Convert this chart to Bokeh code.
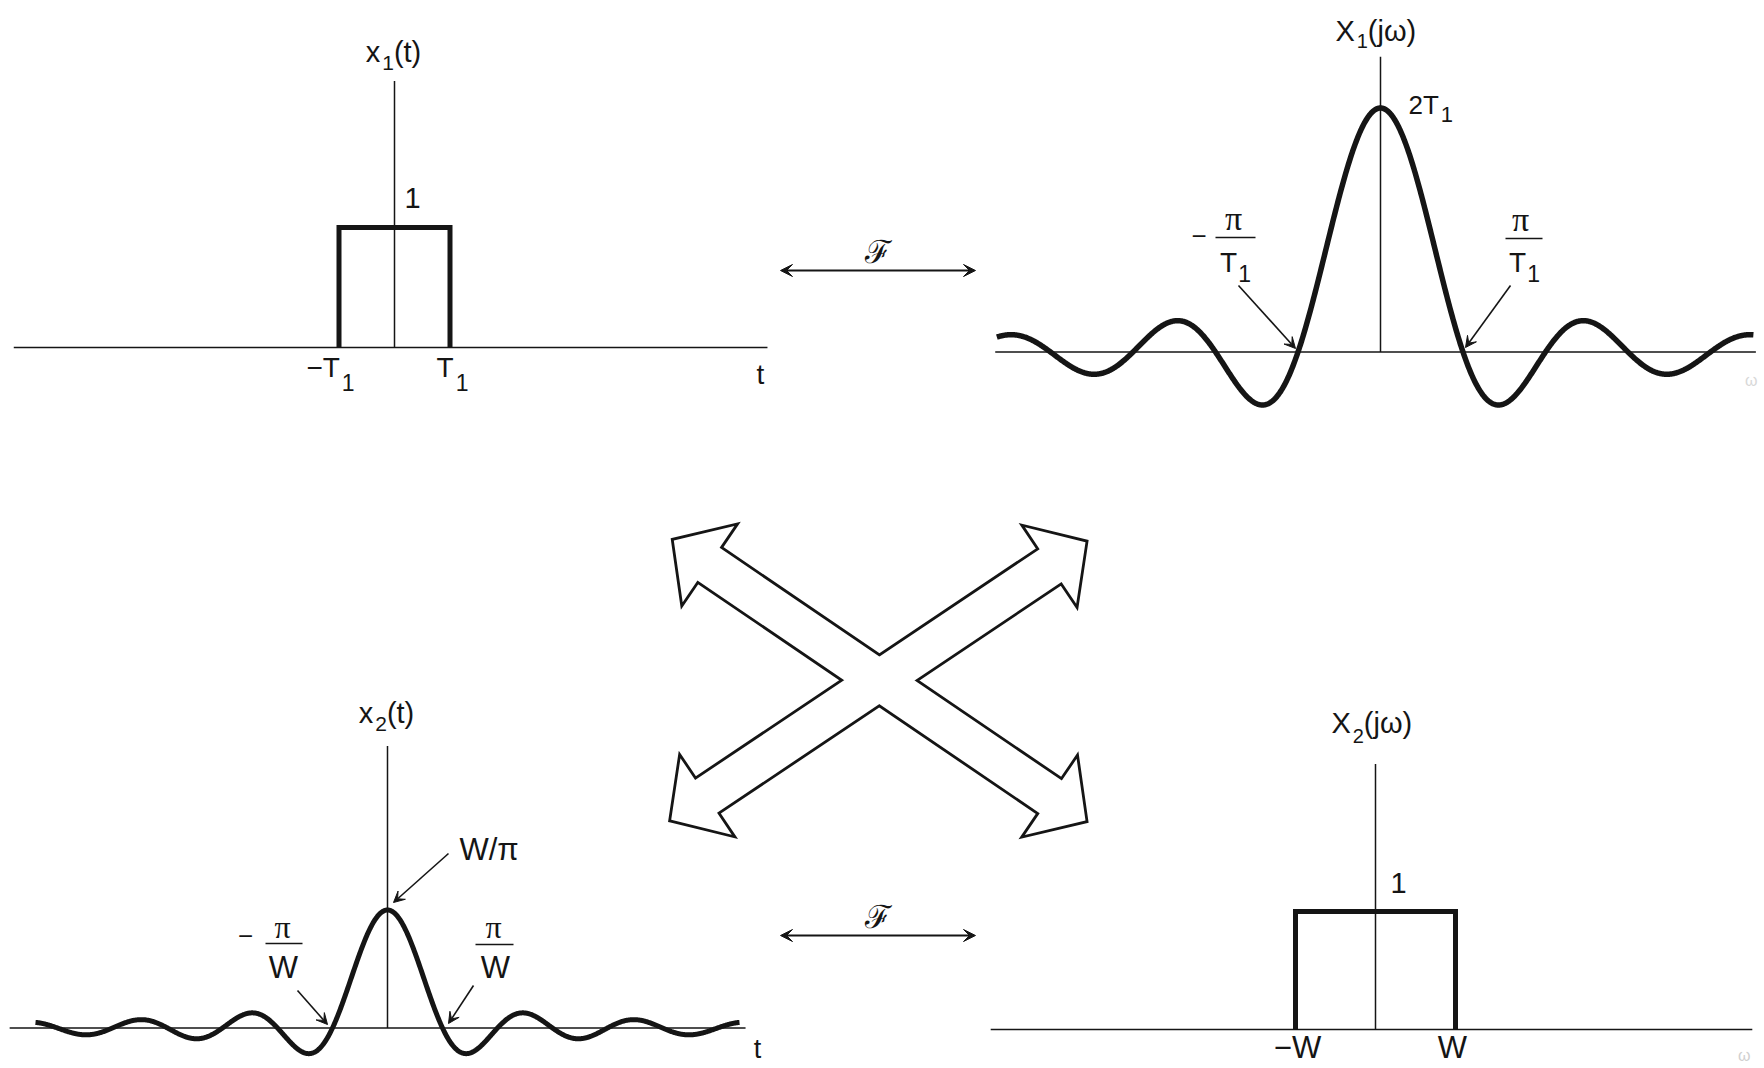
import numpy as np
from bokeh.plotting import figure
from bokeh.models import Range1d, Arrow, VeeHead
from bokeh.core.properties import value
from bokeh.embed import file_html
from bokeh.resources import INLINE

# ---------------- signals ----------------
T1 = 1.0   # half-width of the pulse x1(t)
W = 1.0    # cutoff of the lowpass spectrum X2(jw)

# x1(t): unit-height pulse on |t| < T1
x1_t = [-T1, -T1, T1, T1]
x1_v = [0.0, 1.0, 1.0, 0.0]

# X2(jw): unit-height lowpass on |w| < W
X2_w = [-W, -W, W, W]
X2_v = [0.0, 1.0, 1.0, 0.0]

# drawn extent of the two sinc curves (multiples of pi/T1 and pi/W)
X1_span = [-4.65, 4.52]
x2_span = [-6.4, 6.4]

# axis extents: [left, right, top]
tl_axis = [-6.86 * T1, 6.72 * T1, 2.22]
tr_axis = [-4.67 * np.pi / T1, 4.55 * np.pi / T1, 1.21 * 2 * T1]
bl_axis = [-6.87 * np.pi / W, 6.51 * np.pi / W, 2.39 * W / np.pi]
br_axis = [-4.81 * W, 4.71 * W, 2.25]

# X1(jw) = 2 sin(w T1) / w ,  x2(t) = sin(W t) / (pi t)
w1 = np.linspace(X1_span[0] * np.pi / T1, X1_span[1] * np.pi / T1, 1200)
X1 = 2 * T1 * np.sinc(w1 * T1 / np.pi)
t2 = np.linspace(x2_span[0] * np.pi / W, x2_span[1] * np.pi / W, 1200)
x2 = (W / np.pi) * np.sinc(W * t2 / np.pi)

# ---------------- page & panel geometry ----------------
PAGE_W, PAGE_H = 1764, 1068
INK = "#151515"
SANS = "Liberation Sans"
SERIF = "Liberation Serif"

# origin on the page and pixels per data unit for each panel
PANELS = {
    "tl": ((394.0, 347.0), (55.5 / T1, 120.0)),
    "tr": ((1380.0, 351.5), (82.5 * T1 / np.pi, 122.0 / T1)),
    "bl": ((387.0, 1027.5), (55.0 * W / np.pi, 118.0 * np.pi / W)),
    "br": ((1375.0, 1029.0), (80.0 / W, 118.0)),
}

p = figure(width=PAGE_W, height=PAGE_H, output_backend="svg", toolbar_location=None,
           x_range=Range1d(0, PAGE_W), y_range=Range1d(PAGE_H, 0),
           x_axis_location=None, y_axis_location=None, min_border=0,
           background_fill_color="white", border_fill_color="white",
           outline_line_color=None)
p.grid.visible = False

for name, ((ox, oy), (sx, sy)) in PANELS.items():
    p.extra_x_ranges[name] = Range1d(-ox / sx, (PAGE_W - ox) / sx)
    p.extra_y_ranges[name] = Range1d((oy - PAGE_H) / sy, oy / sy)


def off(name, x, y, dx, dy):
    """Data point shifted by (dx, dy) screen pixels (dy positive = down)."""
    sx, sy = PANELS[name][1]
    return x + dx / sx, y - dy / sy


def draw(name, xs, ys, width, join="miter"):
    p.line(list(xs), list(ys), x_range_name=name, y_range_name=name,
           line_color=INK, line_width=width, line_join=join, line_cap="butt")


def label(name, x, y, s, dx=0, base=0, size=28, align="center", font=SANS, color=INK):
    """Text whose baseline sits `base` pixels below the anchor point."""
    mid = base - (0.34 if font == SERIF else 0.35) * size
    p.text(x=[x], y=[y], text=[s], x_offset=dx, y_offset=mid,
           x_range_name=name, y_range_name=name,
           text_align=align, text_baseline="middle", text_color=color,
           text_font=value(font), text_font_size=value(f"{size}px"))


# approximate advance widths (em) of the sans face, used to lay out subscripts
ADV = {"x": 0.5, "X": 0.667, "T": 0.611, "W": 0.944, "2": 0.556, "1": 0.556,
       "(": 0.333, ")": 0.333, "t": 0.278, "j": 0.222, "ω": 0.69, "−": 0.584}


def width(s, size):
    return sum(ADV.get(c, 0.55) for c in s) * size


def sub_label(name, x, y, dx, base, main, sub, tail="", size=26, sub_size=20, drop=8,
              align="center", gap=1.0):
    wm, ws, wt = width(main, size), width(sub, sub_size), width(tail, size)
    left = dx - (wm + gap + ws + wt) / 2 if align == "center" else dx
    label(name, x, y, main, left, base, size, "left")
    label(name, x, y, sub, left + wm + gap, base + drop, sub_size, "left")
    if tail:
        label(name, x, y, tail, left + wm + gap + ws, base, size, "left")


def bar(name, x, y, dx0, dx1, dy):
    xa, ya = off(name, x, y, dx0, dy)
    xb, yb = off(name, x, y, dx1, dy)
    draw(name, [xa, xb], [ya, yb], 1.7)


def pointer(name, x, y, tail, head):
    xs, ys = off(name, x, y, *tail)
    xe, ye = off(name, x, y, *head)
    p.add_layout(Arrow(end=VeeHead(size=11, fill_color=INK, line_color=INK, line_width=1),
                       x_start=xs, y_start=ys, x_end=xe, y_end=ye,
                       line_color=INK, line_width=1.6,
                       x_range_name=name, y_range_name=name))


def axes(name, ext):
    left, right, top = ext
    draw(name, [left, right], [0, 0], 1.7)
    draw(name, [0, 0], [0, top], 1.5)


# ---------------- top left: x1(t) ----------------
axes("tl", tl_axis)
draw("tl", x1_t, x1_v, 5)
sub_label("tl", 0, tl_axis[2], -1, -18.6, "x", "1", "(t)", size=29, sub_size=21, drop=8, gap=2)
label("tl", 0, 1, "1", 18, -19, size=29)
sub_label("tl", -T1, 0, -8.5, 30, "−T", "1", size=28, sub_size=23, drop=13, gap=2)
sub_label("tl", T1, 0, 2.5, 30, "T", "1", size=28, sub_size=23, drop=13, gap=2)
label("tl", tl_axis[1], 0, "t", -7, 37, size=28)

# ---------------- top right: X1(jw) ----------------
axes("tr", tr_axis)
draw("tr", w1, X1, 5.5, join="round")
z1 = np.pi / T1
sub_label("tr", 0, tr_axis[2], -6, -16, "X", "1", "(jω)", size=29, sub_size=20, drop=7, gap=2)
sub_label("tr", 0, 2 * T1, 28, 6.5, "2T", "1", size=26, sub_size=22, drop=8, align="left", gap=2)
label("tr", -z1, 0, "−", -99, -106.5, size=26)
label("tr", -z1, 0, "π", -64.5, -121.5, size=34, font=SERIF)
bar("tr", -z1, 0, -82.5, -42.5, -114.5)
sub_label("tr", -z1, 0, -62.5, -79.5, "T", "1", size=28, sub_size=23, drop=9)
pointer("tr", -z1, 0, (-59.5, -66.5), (-2.5, -3.5))
label("tr", z1, 0, "π", 57.5, -120.5, size=34, font=SERIF)
bar("tr", z1, 0, 42.5, 79.5, -113.5)
sub_label("tr", z1, 0, 61.5, -79.5, "T", "1", size=28, sub_size=23, drop=9)
pointer("tr", z1, 0, (47.5, -66.5), (2.5, -4.5))
label("tr", tr_axis[1], 0, "ω", -11, 34, size=16, color="#d8d8d8", align="left")

# ---------------- bottom left: x2(t) ----------------
axes("bl", bl_axis)
draw("bl", t2, x2, 5, join="round")
z2 = np.pi / W
sub_label("bl", 0, bl_axis[2], -1, -23, "x", "2", "(t)", size=29, sub_size=21, drop=8, gap=2)
label("bl", 0, W / np.pi, "W/π", 72, -49.5, size=31, align="left")
pointer("bl", 0, W / np.pi, (61, -56.5), (6, -7.5))
label("bl", -z2, 0, "−", -87, -83, size=26)
label("bl", -z2, 0, "π", -50, -90.5, size=32, font=SERIF)
bar("bl", -z2, 0, -67, -30, -84.5)
label("bl", -z2, 0, "W", -49, -49.5, size=31)
pointer("bl", -z2, 0, (-35, -37.5), (-5, -3.5))
label("bl", z2, 0, "π", 51, -90.5, size=32, font=SERIF)
bar("bl", z2, 0, 33, 71, -83.5)
label("bl", z2, 0, "W", 53, -49.5, size=31)
pointer("bl", z2, 0, (31, -42.5), (6, -4.5))
label("bl", bl_axis[1], 0, "t", 12, 30, size=27)

# ---------------- bottom right: X2(jw) ----------------
axes("br", br_axis)
draw("br", X2_w, X2_v, 5)
sub_label("br", 0, br_axis[2], -5, -30.5, "X", "2", "(jω)", size=29, sub_size=20, drop=9, gap=2)
label("br", 0, 1, "1", 23, -18, size=29)
label("br", -W, 0, "−W", 2, 29, size=31)
label("br", W, 0, "W", -3, 29, size=31)
label("br", br_axis[1], 0, "ω", -8, 32, size=16, color="#d0d0d0")

# ---------------- Fourier-pair arrows ----------------
for y in (270, 935):
    p.add_layout(Arrow(start=VeeHead(size=12, fill_color=INK, line_color=INK, line_width=1),
                       end=VeeHead(size=12, fill_color=INK, line_color=INK, line_width=1),
                       x_start=780, y_start=y, x_end=975, y_end=y,
                       line_color=INK, line_width=1.8))
    p.text(x=[877], y=[y - 19], text=["ℱ"], text_align="center", text_baseline="middle",
           text_color=INK, text_font=value("DejaVu Serif"), text_font_size=value("32px"))

# ---------------- duality cross: two double-headed block arrows ----------------
X_TIPS = [((673.3, 540.0), (1085.0, 820.0)), ((670.7, 819.3), (1085.0, 541.7))]
HEAD_LEN, HEAD_HW, SHAFT_HW = 42.0, 46.0, 19.7


def block_arrow(a, b):
    a, b = np.array(a), np.array(b)
    u = (b - a) / np.linalg.norm(b - a)
    n = np.array([-u[1], u[0]])
    pts = [a, a + HEAD_LEN * u + HEAD_HW * n, a + HEAD_LEN * u + SHAFT_HW * n,
           b - HEAD_LEN * u + SHAFT_HW * n, b - HEAD_LEN * u + HEAD_HW * n, b,
           b - HEAD_LEN * u - HEAD_HW * n, b - HEAD_LEN * u - SHAFT_HW * n,
           a + HEAD_LEN * u - SHAFT_HW * n, a + HEAD_LEN * u - HEAD_HW * n]
    return [q[0] for q in pts], [q[1] for q in pts]


shapes = [block_arrow(a, b) for a, b in X_TIPS]
xs = [s[0] for s in shapes]
ys = [s[1] for s in shapes]
# outline first, then white fills hide the inner half of the stroke and the crossing
p.patches(xs, ys, fill_color=None, line_color=INK, line_width=5.6, line_join="miter")
p.patches(xs, ys, fill_color="white", line_color=None)

open("out.html", "w").write(file_html(p, INLINE))
